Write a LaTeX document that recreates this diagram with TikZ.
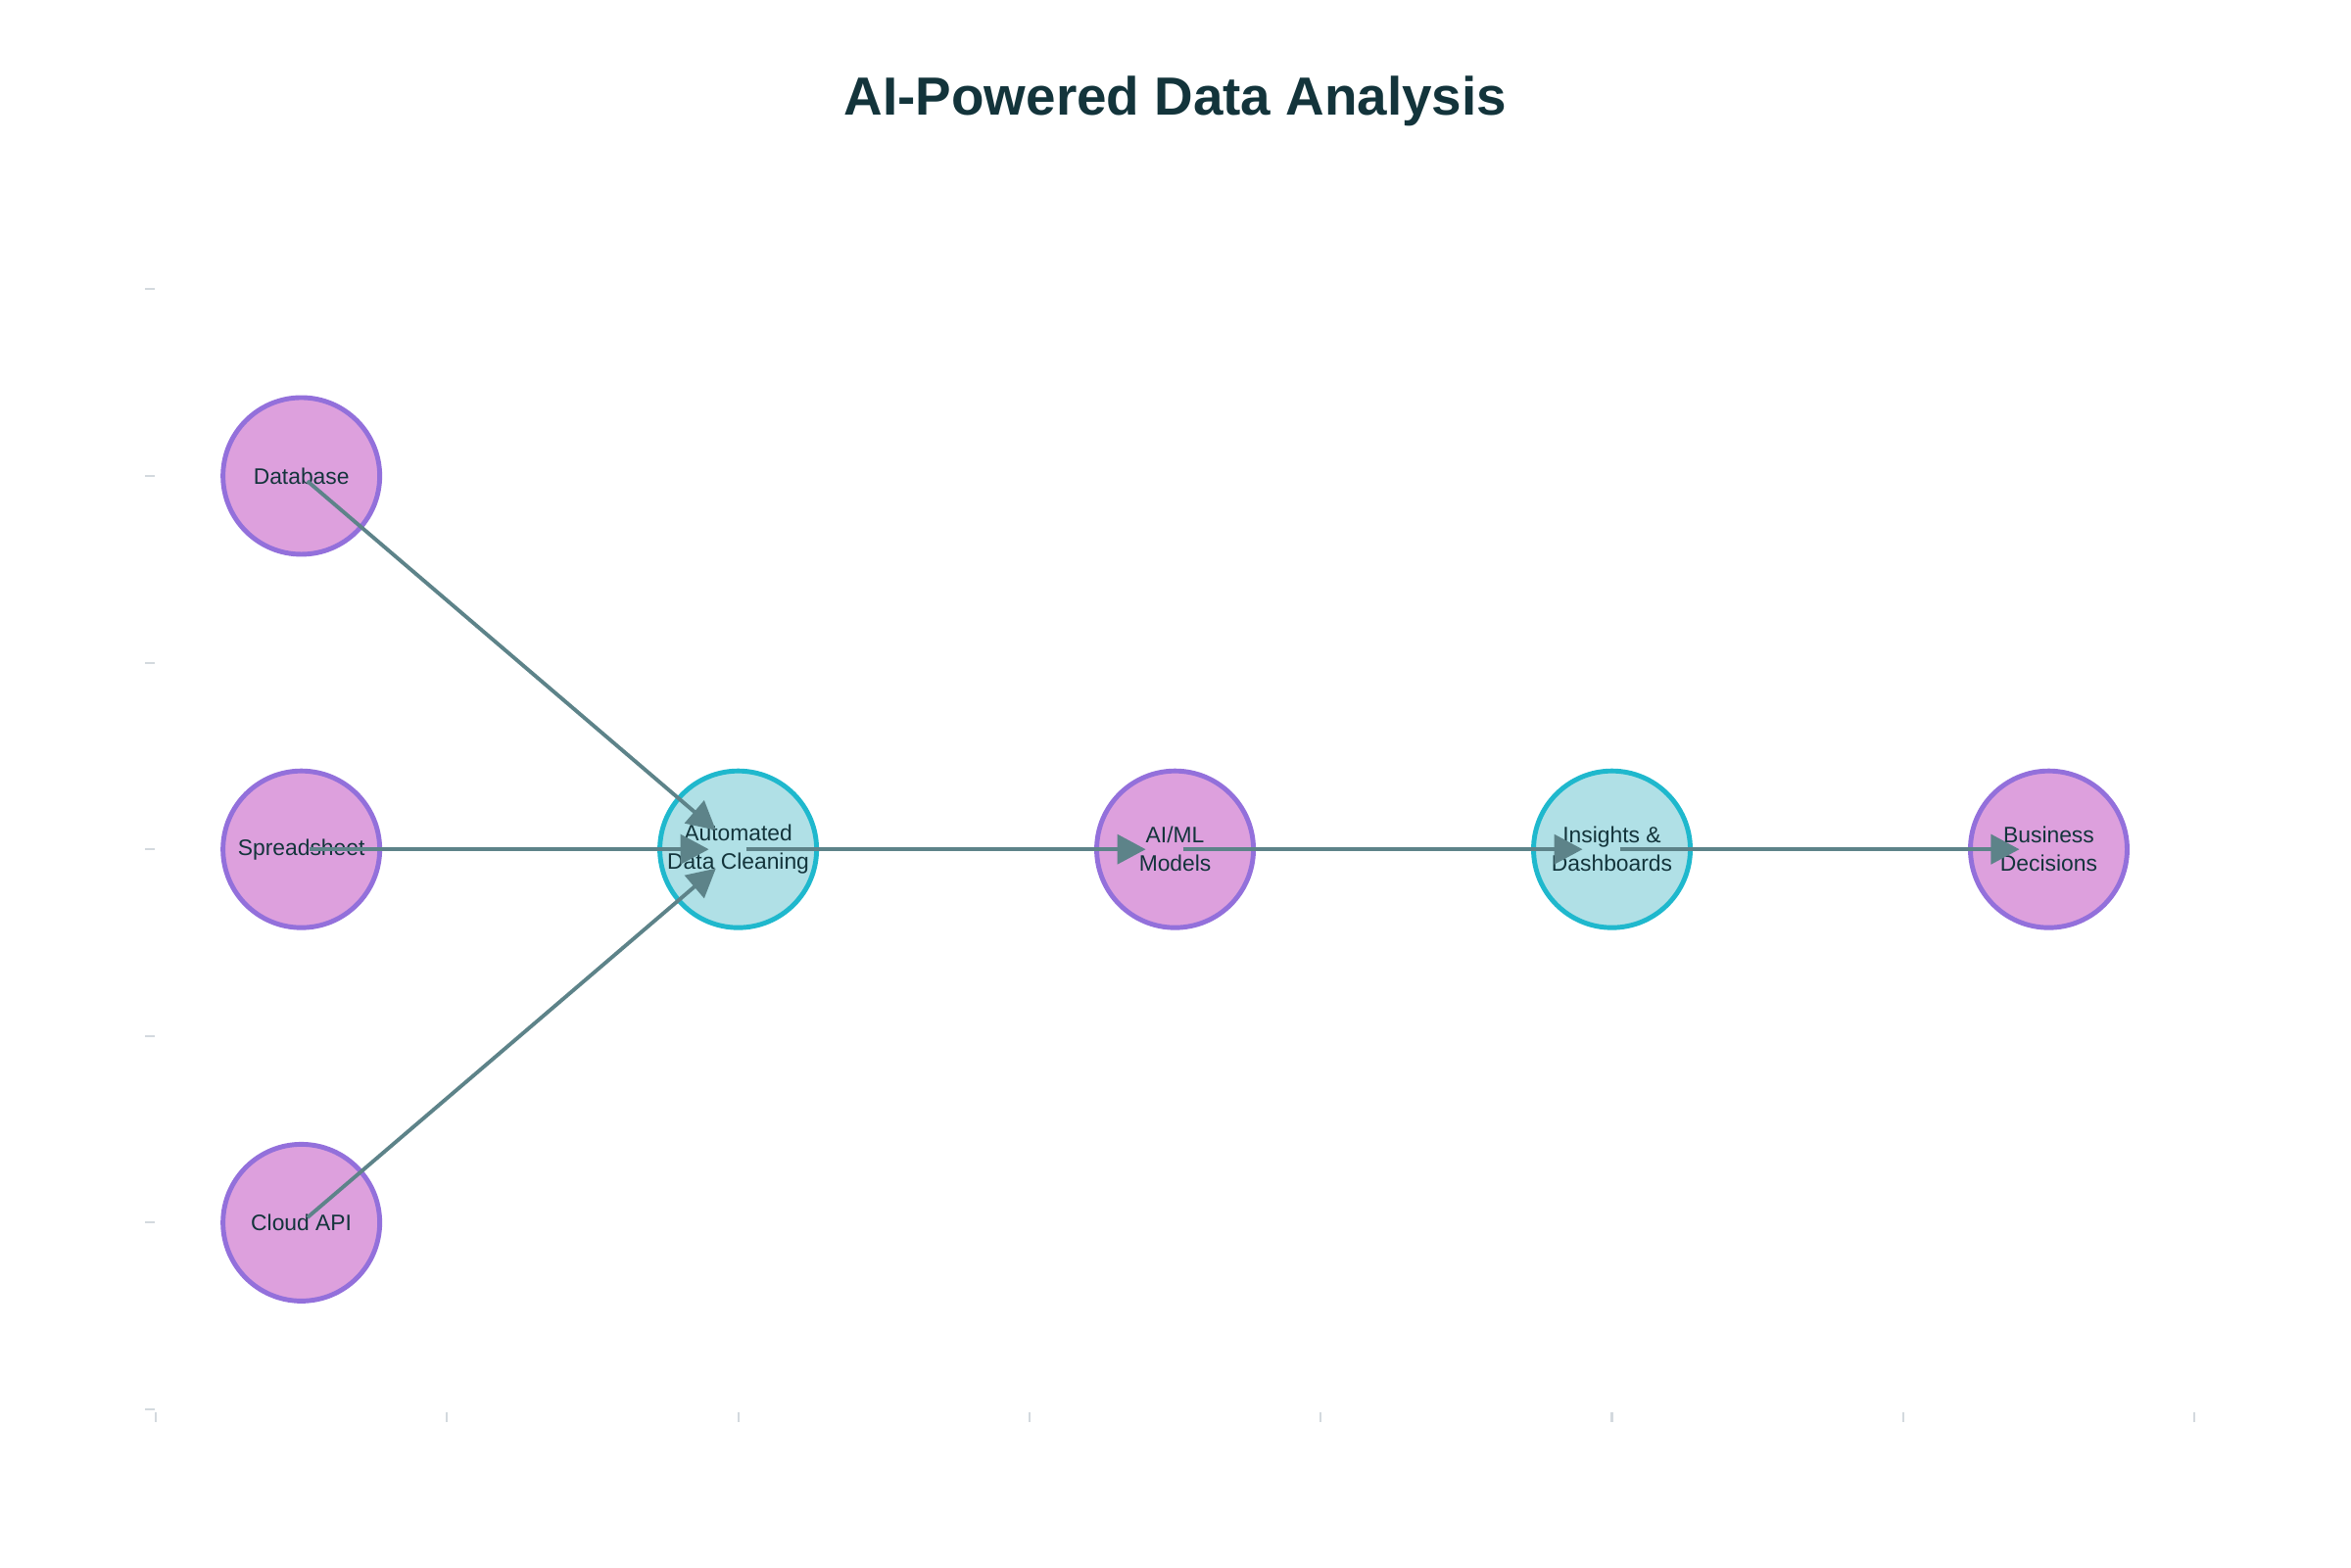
\documentclass[tikz,border=0pt]{standalone}
\usepackage{fontspec}
\setmainfont{Liberation Sans}
\usepackage{tikz}
\usetikzlibrary{arrows.meta}
\definecolor{plumfill}{HTML}{DDA0DD}
\definecolor{plumedge}{HTML}{9370DB}
\definecolor{cyanfill}{HTML}{B0E0E6}
\definecolor{cyanedge}{HTML}{1FB8CD}
\definecolor{flowgray}{HTML}{5D8389}
\definecolor{inkdark}{HTML}{13343B}
\definecolor{tickgray}{HTML}{D3D9DE}

\tikzset{
  stage/.style={circle, draw, line width=1.4pt, minimum size=1.6cm, inner sep=0pt,
                align=center, text=inkdark, font=\fontsize{6.5}{8.25}\selectfont},
  pinkstage/.style={stage, fill=plumfill, draw=plumedge},
  cyanstage/.style={stage, fill=cyanfill, draw=cyanedge},
  flow/.style={-{Triangle[length=0.29cm, width=0.3cm]}, flowgray, line width=1.1pt,
               shorten <=0.08cm, shorten >=0.3cm},
}

\begin{document}
\begin{tikzpicture}

  \useasboundingbox (0,0) rectangle (24,16);

  % Title
  \node[anchor=base, text=inkdark, font=\bfseries\fontsize{15.6}{18}\selectfont]
        (title) at (12, 14.82) {AI-Powered Data Analysis};

  \begin{scope}[shift={(1.59,1.61)}, x=2.973cm, y=1.906cm]

    % Axis ticks
    \foreach \i in {0,...,7}
      \draw[tickgray, line width=0.6pt] (\i,0) ++(0,-0.03cm) -- ++(0,-0.1cm);
    \foreach \j in {0,...,6}
      \draw[tickgray, line width=0.6pt] (0,\j) ++(-0.01cm,0) -- ++(-0.1cm,0);

    % Sources
    \node[pinkstage] (db)    at (0.5,5) {Database};
    \node[pinkstage] (sheet) at (0.5,3) {Spreadsheet};
    \node[pinkstage] (cloud) at (0.5,1) {Cloud API};

    % Pipeline
    \node[cyanstage] (clean)    at (2,3)   {Automated\\Data Cleaning};
    \node[pinkstage] (models)   at (3.5,3) {AI/ML\\Models};
    \node[cyanstage] (insights) at (5,3)   {Insights \&\\Dashboards};
    \node[pinkstage] (decide)   at (6.5,3) {Business\\Decisions};

    % Flows
    \foreach \a/\b in {db/clean, sheet/clean, cloud/clean,
                       clean/models, models/insights, insights/decide}
      \draw[flow] (\a.center) -- (\b.center);

  \end{scope}

\end{tikzpicture}
\end{document}
